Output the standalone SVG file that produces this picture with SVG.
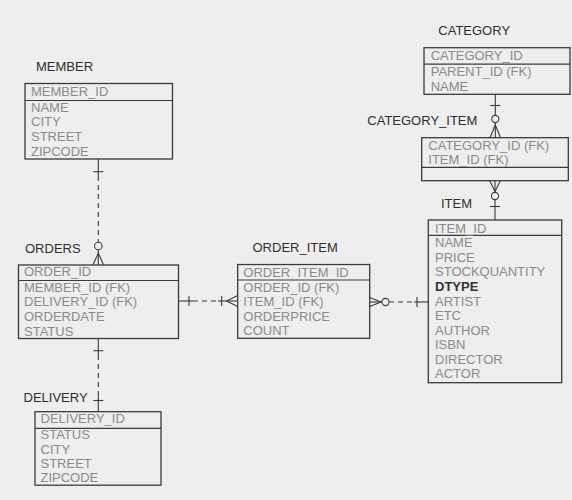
<svg xmlns="http://www.w3.org/2000/svg" width="572" height="500" viewBox="0 0 572 500">
<style>
.bg{fill:#eeeeee}
.box{fill:none;stroke:#3a3a3a;stroke-width:1.3}
.sep{stroke:#3a3a3a;stroke-width:1.2}
.ttl{font-family:"Liberation Sans",Arial,sans-serif;font-size:13px;fill:#2e2e2e}
.row{font-family:"Liberation Sans",Arial,sans-serif;font-size:13px;fill:#8a8a8a}
.bold{font-weight:bold;fill:#333}
.ln{stroke:#3a3a3a;stroke-width:1.1;fill:none}
.dash{stroke-dasharray:5,4}
.circ{fill:#eeeeee;stroke:#3a3a3a;stroke-width:1.1}
</style>
<rect class="bg" x="0" y="0" width="572" height="500"/>

<g id="member">
<text class="ttl" x="36" y="71">MEMBER</text>
<rect class="box" x="25" y="83.5" width="147.5" height="75.5"/>
<line class="sep" x1="25" y1="100.5" x2="172.5" y2="100.5"/>
<text class="row" x="31" y="96">MEMBER_ID</text>
<text class="row" x="31" y="111.7">NAME</text>
<text class="row" x="31" y="126.2">CITY</text>
<text class="row" x="31" y="141.2">STREET</text>
<text class="row" x="31" y="156">ZIPCODE</text>
</g>

<g id="orders">
<text class="ttl" x="25" y="253">ORDERS</text>
<rect class="box" x="18.5" y="265" width="160" height="73.5"/>
<line class="sep" x1="18.5" y1="280.5" x2="178.5" y2="280.5"/>
<text class="row" x="24" y="276">ORDER_ID</text>
<text class="row" x="24" y="291.7">MEMBER_ID (FK)</text>
<text class="row" x="24" y="306.2">DELIVERY_ID (FK)</text>
<text class="row" x="24" y="321.2">ORDERDATE</text>
<text class="row" x="24" y="335.8">STATUS</text>
</g>

<g id="delivery">
<text class="ttl" x="23.5" y="401.5">DELIVERY</text>
<rect class="box" x="35" y="411.7" width="126" height="73.5"/>
<line class="sep" x1="35" y1="428.3" x2="161" y2="428.3"/>
<text class="row" x="40.5" y="423.3">DELIVERY_ID</text>
<text class="row" x="40.5" y="439">STATUS</text>
<text class="row" x="40.5" y="453.5">CITY</text>
<text class="row" x="40.5" y="468">STREET</text>
<text class="row" x="40.5" y="482.3">ZIPCODE</text>
</g>

<g id="order_item">
<text class="ttl" x="252.5" y="251.7">ORDER_ITEM</text>
<rect class="box" x="237.7" y="264.5" width="132" height="73.8"/>
<line class="sep" x1="237.7" y1="280" x2="369.7" y2="280"/>
<text class="row" x="243.3" y="276.7">ORDER_ITEM_ID</text>
<text class="row" x="243.3" y="292">ORDER_ID (FK)</text>
<text class="row" x="243.3" y="306.2">ITEM_ID (FK)</text>
<text class="row" x="243.3" y="320.7">ORDERPRICE</text>
<text class="row" x="243.3" y="334.5">COUNT</text>
</g>

<g id="category">
<text class="ttl" x="438.3" y="34.5">CATEGORY</text>
<rect class="box" x="424" y="47.7" width="146" height="46.6"/>
<line class="sep" x1="424" y1="64.2" x2="570" y2="64.2"/>
<text class="row" x="430.7" y="60">CATEGORY_ID</text>
<text class="row" x="430.7" y="76">PARENT_ID (FK)</text>
<text class="row" x="430.7" y="90.7">NAME</text>
</g>

<g id="category_item">
<text class="ttl" x="367.3" y="125">CATEGORY_ITEM</text>
<rect class="box" x="421.7" y="137.7" width="146.6" height="43"/>
<line class="sep" x1="421.7" y1="167.3" x2="568.3" y2="167.3"/>
<text class="row" x="428.3" y="150">CATEGORY_ID (FK)</text>
<text class="row" x="428.3" y="164">ITEM_ID (FK)</text>
</g>

<g id="item">
<text class="ttl" x="441" y="208">ITEM</text>
<rect class="box" x="428.3" y="220" width="133.4" height="162.7"/>
<line class="sep" x1="428.3" y1="235.3" x2="561.7" y2="235.3"/>
<text class="row" x="435" y="232.7">ITEM_ID</text>
<text class="row" x="435" y="247.3">NAME</text>
<text class="row" x="435" y="261.8">PRICE</text>
<text class="row" x="435" y="276.3">STOCKQUANTITY</text>
<text class="row bold" x="435" y="290.8">DTYPE</text>
<text class="row" x="435" y="305.5">ARTIST</text>
<text class="row" x="435" y="320">ETC</text>
<text class="row" x="435" y="334.6">AUTHOR</text>
<text class="row" x="435" y="349">ISBN</text>
<text class="row" x="435" y="363.6">DIRECTOR</text>
<text class="row" x="435" y="378.2">ACTOR</text>
</g>

<g id="connectors">
<!-- MEMBER - ORDERS -->
<line class="ln" x1="98.3" y1="159" x2="98.3" y2="176"/>
<line class="ln dash" x1="98.3" y1="176" x2="98.3" y2="242"/>
<line class="ln" x1="93.3" y1="171.7" x2="103.3" y2="171.7"/>
<circle class="circ" cx="98.3" cy="246" r="3.8"/>
<line class="ln" x1="98.3" y1="250" x2="98.3" y2="265"/>
<path class="ln" d="M93 265 L98.3 253 L103.6 265"/>

<!-- ORDERS - DELIVERY -->
<line class="ln" x1="98.3" y1="338.5" x2="98.3" y2="355"/>
<line class="ln dash" x1="98.3" y1="355" x2="98.3" y2="396"/>
<line class="ln" x1="98.3" y1="396" x2="98.3" y2="411.7"/>
<line class="ln" x1="93.3" y1="350.7" x2="103.3" y2="350.7"/>
<line class="ln" x1="93.3" y1="400.5" x2="103.3" y2="400.5"/>

<!-- ORDERS - ORDER_ITEM -->
<line class="ln" x1="178.5" y1="301" x2="193" y2="301"/>
<line class="ln dash" x1="193" y1="301" x2="218" y2="301"/>
<line class="ln" x1="218" y1="301" x2="237.7" y2="301"/>
<line class="ln" x1="189" y1="296" x2="189" y2="306"/>
<line class="ln" x1="221.7" y1="296" x2="221.7" y2="306"/>
<path class="ln" d="M237.7 295.5 L226.5 301 L237.7 306.5"/>

<!-- ORDER_ITEM - ITEM -->
<path class="ln" d="M369.7 297.5 L381 302 L369.7 306.5"/>
<line class="ln" x1="369.7" y1="302" x2="382" y2="302"/>
<circle class="circ" cx="385.5" cy="302" r="3.6"/>
<line class="ln dash" x1="389" y1="302" x2="414" y2="302"/>
<line class="ln" x1="414" y1="302" x2="428.3" y2="302"/>
<line class="ln" x1="417" y1="297" x2="417" y2="307"/>

<!-- CATEGORY - CATEGORY_ITEM -->
<line class="ln" x1="495.3" y1="94.3" x2="495.3" y2="115.5"/>
<line class="ln" x1="490.3" y1="105.5" x2="500.3" y2="105.5"/>
<circle class="circ" cx="495.3" cy="119" r="3.6"/>
<line class="ln" x1="495.3" y1="122.6" x2="495.3" y2="137.7"/>
<path class="ln" d="M490 137.7 L495.3 125 L500.6 137.7"/>

<!-- CATEGORY_ITEM - ITEM -->
<line class="ln" x1="495" y1="180.7" x2="495" y2="192"/>
<path class="ln" d="M489.7 180.7 L495 191.5 L500.3 180.7"/>
<circle class="circ" cx="495" cy="196" r="3.6"/>
<line class="ln" x1="495" y1="199.6" x2="495" y2="220"/>
<line class="ln" x1="490" y1="206.5" x2="500" y2="206.5"/>
</g>
</svg>
